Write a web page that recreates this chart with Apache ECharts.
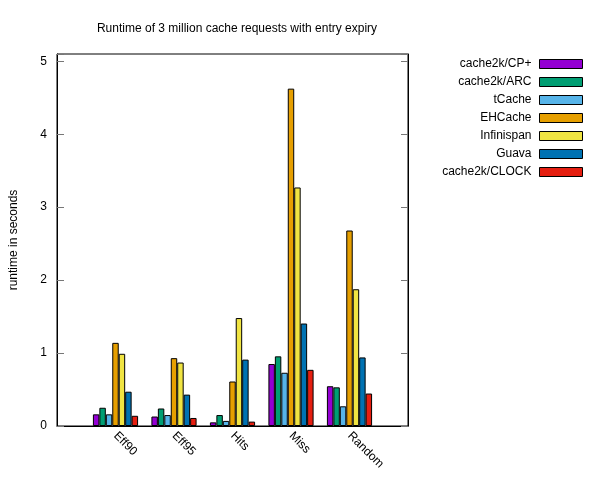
<!DOCTYPE html>
<html>
<head>
<meta charset="utf-8">
<script src="https://cdn.jsdelivr.net/npm/echarts@6/dist/echarts.min.js"></script>
<style>html,body{margin:0;padding:0;background:#fff}#c{width:600px;height:480px}</style>
</head>
<body>
<div id="c"></div>
<script>
const categories = ['', 'Eff90', 'Eff95', 'Hits', 'Miss', 'Random', ''];
const seriesNames = ['cache2k/CP+', 'cache2k/ARC', 'tCache', 'EHCache', 'Infinispan', 'Guava', 'cache2k/CLOCK'];
const colors = ['#9400d3', '#009e73', '#56b4e9', '#e69f00', '#f0e442', '#0072b2', '#e51e10'];
const cp = [null, 0.16, 0.13, 0.05, 0.85, 0.545, null];
const arc = [null, 0.25, 0.24, 0.15, 0.955, 0.53, null];
const tcache = [null, 0.16, 0.15, 0.07, 0.73, 0.27, null];
const ehcache = [null, 1.14, 0.93, 0.61, 4.625, 2.68, null];
const infinispan = [null, 0.99, 0.87, 1.48, 3.27, 1.875, null];
const guava = [null, 0.47, 0.43, 0.91, 1.405, 0.94, null];
const clock = [null, 0.14, 0.11, 0.06, 0.77, 0.445, null];
const values = [cp, arc, tcache, ehcache, infinispan, guava, clock];

const font = 'Liberation Sans';
const chart = echarts.init(document.getElementById('c'));
chart.setOption({
  animation: false,
  textStyle: { fontFamily: font },
  title: {
    text: 'Runtime of 3 million cache requests with entry expiry',
    left: 232, top: 18, textAlign: 'center',
    textStyle: { fontFamily: font, fontSize: 12, fontWeight: 'normal', color: '#000' }
  },
  legend: {
    orient: 'vertical', right: 12, top: 52, align: 'right',
    itemWidth: 43, itemHeight: 9, itemGap: 4,
    icon: 'rect',
    textStyle: { fontFamily: font, fontSize: 12, color: '#000', lineHeight: 14, padding: [0, 3, 0, 0] },
    itemStyle: { borderColor: '#000', borderWidth: 1 },
    data: seriesNames
  },
  grid: { left: 56, right: 192, top: 54, bottom: 54, show: true, borderColor: '#000', borderWidth: 1, containLabel: false },
  xAxis: {
    type: 'category', data: categories, boundaryGap: false,
    axisLine: { lineStyle: { color: '#000' } },
    axisTick: { show: false },
    axisLabel: { rotate: -45, fontFamily: font, fontSize: 12, color: '#000', margin: 8, interval: 0 }
  },
  yAxis: [{
    type: 'value', min: 0, max: 5.1, interval: 1,
    name: 'runtime in seconds', nameLocation: 'middle', nameGap: 37, nameRotate: 90,
    nameTextStyle: { fontFamily: font, fontSize: 12, color: '#000' },
    axisLine: { show: true, lineStyle: { color: '#000' } },
    axisTick: { show: true, inside: true, length: 7, lineStyle: { color: '#777' } },
    axisLabel: { fontFamily: font, fontSize: 12, color: '#000', margin: 10, formatter: v => Number.isInteger(v) ? String(v) : '' },
    splitLine: { show: false }
  }, {
    type: 'value', min: 0, max: 5.1, interval: 1, position: 'right',
    axisLine: { show: true, lineStyle: { color: '#000' } },
    axisTick: { show: true, inside: true, length: 7, lineStyle: { color: '#777' } },
    axisLabel: { show: false },
    splitLine: { show: false }
  }],
  series: seriesNames.map((n, i) => ({
    name: n, type: 'bar', data: values[i],
    barGap: '0%', barCategoryGap: '22.8%',
    itemStyle: { color: colors[i], borderColor: '#000', borderWidth: 1 }
  }))
});
</script>
</body>
</html>
